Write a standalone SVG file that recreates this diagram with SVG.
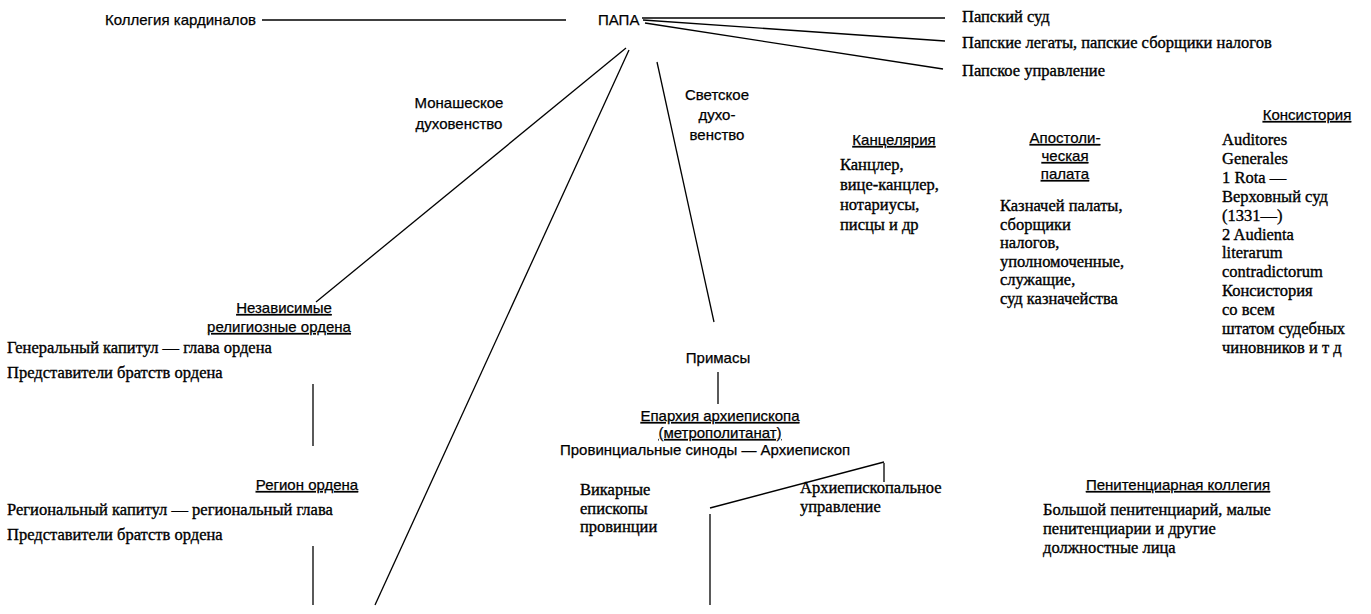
<svg xmlns="http://www.w3.org/2000/svg" width="1371" height="614" viewBox="0 0 1371 614">
<style>
.s{font-family:"Liberation Sans",Arial,sans-serif;font-size:15px;fill:#000;stroke:#000;stroke-width:0.25}
.r{font-family:"Liberation Serif","Times New Roman",serif;font-size:16.5px;fill:#000;stroke:#000;stroke-width:0.35}
.m{text-anchor:middle}
.u{text-decoration:underline;text-decoration-thickness:2px}
.ln{stroke:#000;stroke-width:1.3;fill:none}
</style>
<rect width="1371" height="614" fill="#fff"/>
<g id="connectors">
<path class="ln" d="M262,20 L566,20"/>
<path class="ln" d="M642,18 L945,18"/>
<path class="ln" d="M643,20 L945,41"/>
<path class="ln" d="M645,23 L943,69"/>
<path class="ln" d="M626,48 L316,302"/>
<path class="ln" d="M629,50 L375,605"/>
<path class="ln" d="M657,62 L714,322"/>
<path class="ln" d="M313,384 L313,446"/>
<path class="ln" d="M313,546 L313,605"/>
<path class="ln" d="M718,372 L718,404"/>
<path class="ln" d="M884,462 L710,508"/>
<path class="ln" d="M710,514 L710,605"/>
<path class="ln" d="M884,463 L884,482"/>
</g>
<g id="kollegia"><text class="s" x="105" y="25">Коллегия кардиналов</text></g>
<g id="papa"><text class="s" x="598" y="25">ПАПА</text></g>
<g id="papsky-sud"><text class="r" x="962" y="22">Папский суд</text></g>
<g id="legaty"><text class="r" x="962" y="48">Папские легаты, папские сборщики налогов</text></g>
<g id="upravlenie"><text class="r" x="962" y="76">Папское управление</text></g>
<g id="monash"><text class="s m" x="459" y="108">Монашеское</text><text class="s m" x="459" y="129">духовенство</text></g>
<g id="svetskoe"><text class="s m" x="717" y="100">Светское</text><text class="s m" x="717" y="120">духо-</text><text class="s m" x="717" y="140">венство</text></g>
<g id="kancelyaria">
<text class="s m u" x="894" y="145">Канцелярия</text>
<text class="r" x="840" y="170">Канцлер,</text>
<text class="r" x="840" y="190">вице-канцлер,</text>
<text class="r" x="840" y="210">нотариусы,</text>
<text class="r" x="840" y="230">писцы и др</text>
</g>
<g id="apostol">
<text class="s m u" x="1065" y="143">Апостоли-</text>
<text class="s m u" x="1065" y="161">ческая</text>
<text class="s m u" x="1065" y="179">палата</text>
<text class="r" x="1000" y="211">Казначей палаты,</text>
<text class="r" x="1000" y="230">сборщики</text>
<text class="r" x="1000" y="248">налогов,</text>
<text class="r" x="1000" y="267">уполномоченные,</text>
<text class="r" x="1000" y="285">служащие,</text>
<text class="r" x="1000" y="304">суд казначейства</text>
</g>
<g id="konsistoria">
<text class="s m u" x="1307" y="120">Консистория</text>
<text class="r" x="1222" y="145">Auditores</text>
<text class="r" x="1222" y="164">Generales</text>
<text class="r" x="1222" y="183">1  Rota —</text>
<text class="r" x="1222" y="202">Верховный суд</text>
<text class="r" x="1222" y="221">(1331—)</text>
<text class="r" x="1222" y="240">2  Audienta</text>
<text class="r" x="1222" y="258">literarum</text>
<text class="r" x="1222" y="277">contradictorum</text>
<text class="r" x="1222" y="296">Консистория</text>
<text class="r" x="1222" y="315">со всем</text>
<text class="r" x="1222" y="334">штатом судебных</text>
<text class="r" x="1222" y="353">чиновников и т д</text>
</g>
<g id="nezavisimye">
<text class="s m u" x="284" y="313">Независимые</text>
<text class="s m u" x="279" y="332">религиозные ордена</text>
<text class="r" x="7" y="353">Генеральный капитул — глава ордена</text>
<text class="r" x="7" y="378">Представители братств ордена</text>
</g>
<g id="region">
<text class="s m u" x="307" y="490">Регион ордена</text>
<text class="r" x="7" y="515">Региональный капитул — региональный глава</text>
<text class="r" x="7" y="540">Представители братств ордена</text>
</g>
<g id="primasy"><text class="s m" x="718" y="363">Примасы</text></g>
<g id="eparhia">
<text class="s m u" x="720" y="421">Епархия архиепископа</text>
<text class="s m u" x="720" y="438">(метрополитанат)</text>
<text class="s" x="560" y="455">Провинциальные синоды — Архиепископ</text>
</g>
<g id="vikarnye">
<text class="r" x="580" y="495">Викарные</text>
<text class="r" x="580" y="514">епископы</text>
<text class="r" x="580" y="532">провинции</text>
</g>
<g id="arh-upr">
<text class="r" x="800" y="493">Архиепископальное</text>
<text class="r" x="800" y="512">управление</text>
</g>
<g id="penitenc">
<text class="s m u" x="1178" y="490">Пенитенциарная коллегия</text>
<text class="r" x="1043" y="515">Большой пенитенциарий, малые</text>
<text class="r" x="1043" y="534">пенитенциарии и другие</text>
<text class="r" x="1043" y="553">должностные лица</text>
</g>
</svg>
